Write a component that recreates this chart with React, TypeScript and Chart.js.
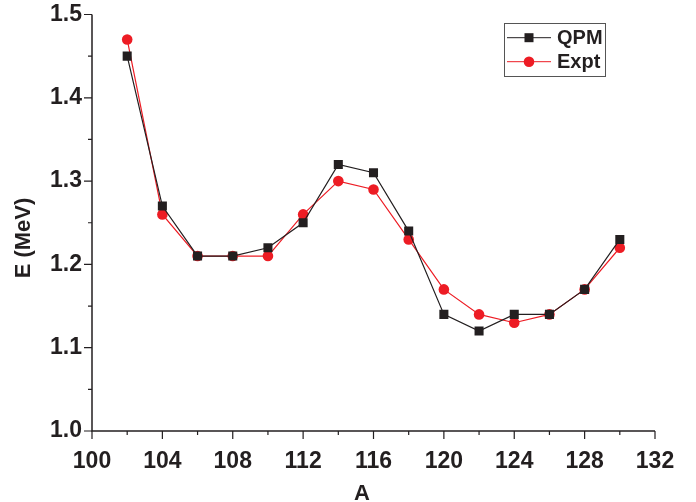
import React, { useEffect, useRef } from "react";
import { Chart, registerables } from "chart.js";

Chart.register(...registerables);

const massNumbers = [102, 104, 106, 108, 110, 112, 114, 116, 118, 120, 122, 124, 126, 128, 130];
const qpmValues = [1.45, 1.27, 1.21, 1.21, 1.22, 1.25, 1.32, 1.31, 1.24, 1.14, 1.12, 1.14, 1.14, 1.17, 1.23];
const exptValues = [1.47, 1.26, 1.21, 1.21, 1.21, 1.26, 1.30, 1.29, 1.23, 1.17, 1.14, 1.13, 1.14, 1.17, 1.22];
const seriesLabels = ["QPM", "Expt"];
const xTitle = "A";
const yTitle = "E (MeV)";

const BLACK = "#231f20";
const RED = "#ed1c24";
const FONT = "'Liberation Sans', Arial, sans-serif";

const axesPlugin = {
  id: "originAxes",
  beforeDatasetsDraw(chart: any) {
    const { ctx, chartArea, scales } = chart;
    const xs = scales.x;
    const ys = scales.y;
    ctx.save();
    ctx.strokeStyle = BLACK;
    ctx.lineWidth = 1.5;
    ctx.beginPath();
    ctx.moveTo(chartArea.left, chartArea.top);
    ctx.lineTo(chartArea.left, chartArea.bottom);
    ctx.lineTo(chartArea.right, chartArea.bottom);
    ctx.stroke();
    ctx.lineWidth = 1.2;
    ctx.beginPath();
    for (let v = 100; v <= 132; v += 2) {
      const px = xs.getPixelForValue(v);
      const len = v % 4 === 0 ? 8 : 4;
      ctx.moveTo(px, chartArea.bottom);
      ctx.lineTo(px, chartArea.bottom + len);
    }
    for (let i = 0; i <= 10; i++) {
      const v = 1 + i * 0.05;
      const py = ys.getPixelForValue(v);
      const len = i % 2 === 0 ? 8 : 4;
      ctx.moveTo(chartArea.left, py);
      ctx.lineTo(chartArea.left - len, py);
    }
    ctx.stroke();

    // axis titles
    ctx.fillStyle = BLACK;
    ctx.font = `bold 22px ${FONT}`;
    ctx.textAlign = "center";
    ctx.textBaseline = "middle";
    ctx.fillText(xTitle, 362, 494);
    ctx.translate(24, 238);
    ctx.rotate(-Math.PI / 2);
    ctx.fillText(yTitle, 0, 0);
    ctx.restore();
  },
  afterDraw(chart: any) {
    const { ctx } = chart;
    ctx.save();
    ctx.strokeStyle = "#555";
    ctx.lineWidth = 1;
    ctx.strokeRect(504.5, 23.5, 101, 53);
    const rows = [37.7, 61.7];
    chart.data.datasets.forEach((ds: any, i: number) => {
      const y = rows[i];
      ctx.strokeStyle = ds.borderColor;
      ctx.lineWidth = 1;
      ctx.beginPath();
      ctx.moveTo(507, y);
      ctx.lineTo(551, y);
      ctx.stroke();
      ctx.fillStyle = ds.pointBackgroundColor;
      if (ds.pointStyle === "rect") {
        ctx.fillRect(529 - 4.5, y - 4.5, 9, 9);
      } else {
        ctx.beginPath();
        ctx.arc(529, y, 5.3, 0, Math.PI * 2);
        ctx.fill();
      }
      ctx.fillStyle = BLACK;
      ctx.font = `bold 20px ${FONT}`;
      ctx.textAlign = "left";
      ctx.textBaseline = "middle";
      ctx.fillText(ds.label, 557, y + 1);
    });
    ctx.restore();
  },
};

export default function App() {
  const ref = useRef<HTMLCanvasElement>(null);
  useEffect(() => {
    document.body.style.margin = "0";
    const canvas = ref.current!;
    const chart = new Chart(canvas, {
      type: "line",
      data: {
        datasets: [
          {
            label: seriesLabels[0],
            data: massNumbers.map((x, i) => ({ x, y: qpmValues[i] })),
            borderColor: BLACK,
            backgroundColor: BLACK,
            pointBackgroundColor: BLACK,
            pointBorderColor: BLACK,
            borderWidth: 1.2,
            pointStyle: "rect",
            pointRadius: 6.4,
            pointBorderWidth: 0,
            tension: 0,
          },
          {
            label: seriesLabels[1],
            data: massNumbers.map((x, i) => ({ x, y: exptValues[i] })),
            borderColor: RED,
            backgroundColor: RED,
            pointBackgroundColor: RED,
            pointBorderColor: RED,
            borderWidth: 1.2,
            pointStyle: "circle",
            pointRadius: 5.3,
            pointBorderWidth: 0,
            tension: 0,
          },
        ],
      },
      options: {
        responsive: false,
        animation: false,
        layout: { padding: { left: 0, right: 41, top: 14.5, bottom: 0 } },
        plugins: { legend: { display: false }, tooltip: { enabled: false } },
        scales: {
          x: {
            type: "linear",
            min: 100,
            max: 132,
            grid: { display: false, drawTicks: false },
            border: { display: false },
            afterFit: (s: any) => {
              s.height = 71;
              s.paddingLeft = 0;
              s.paddingRight = 0;
            },
            ticks: {
              stepSize: 4,
              autoSkip: false,
              maxRotation: 0,
              padding: 17,
              color: BLACK,
              font: { family: FONT, size: 23, weight: "bold" },
              callback: (v: any) => String(v),
            },
          },
          y: {
            type: "linear",
            min: 1.0,
            max: 1.5,
            grid: { display: false, drawTicks: false },
            border: { display: false },
            afterFit: (s: any) => {
              s.width = 92;
              s.paddingTop = 0;
              s.paddingBottom = 0;
            },
            ticks: {
              stepSize: 0.1,
              autoSkip: false,
              padding: 10,
              color: BLACK,
              font: { family: FONT, size: 23, weight: "bold" },
              callback: (v: any) => Number(v).toFixed(1),
            },
          },
        },
      },
      plugins: [axesPlugin],
    } as any);
    return () => chart.destroy();
  }, []);
  return (
    <div style={{ width: 696, height: 502, background: "#fff" }}>
      <canvas ref={ref} width={696} height={502} />
    </div>
  );
}
